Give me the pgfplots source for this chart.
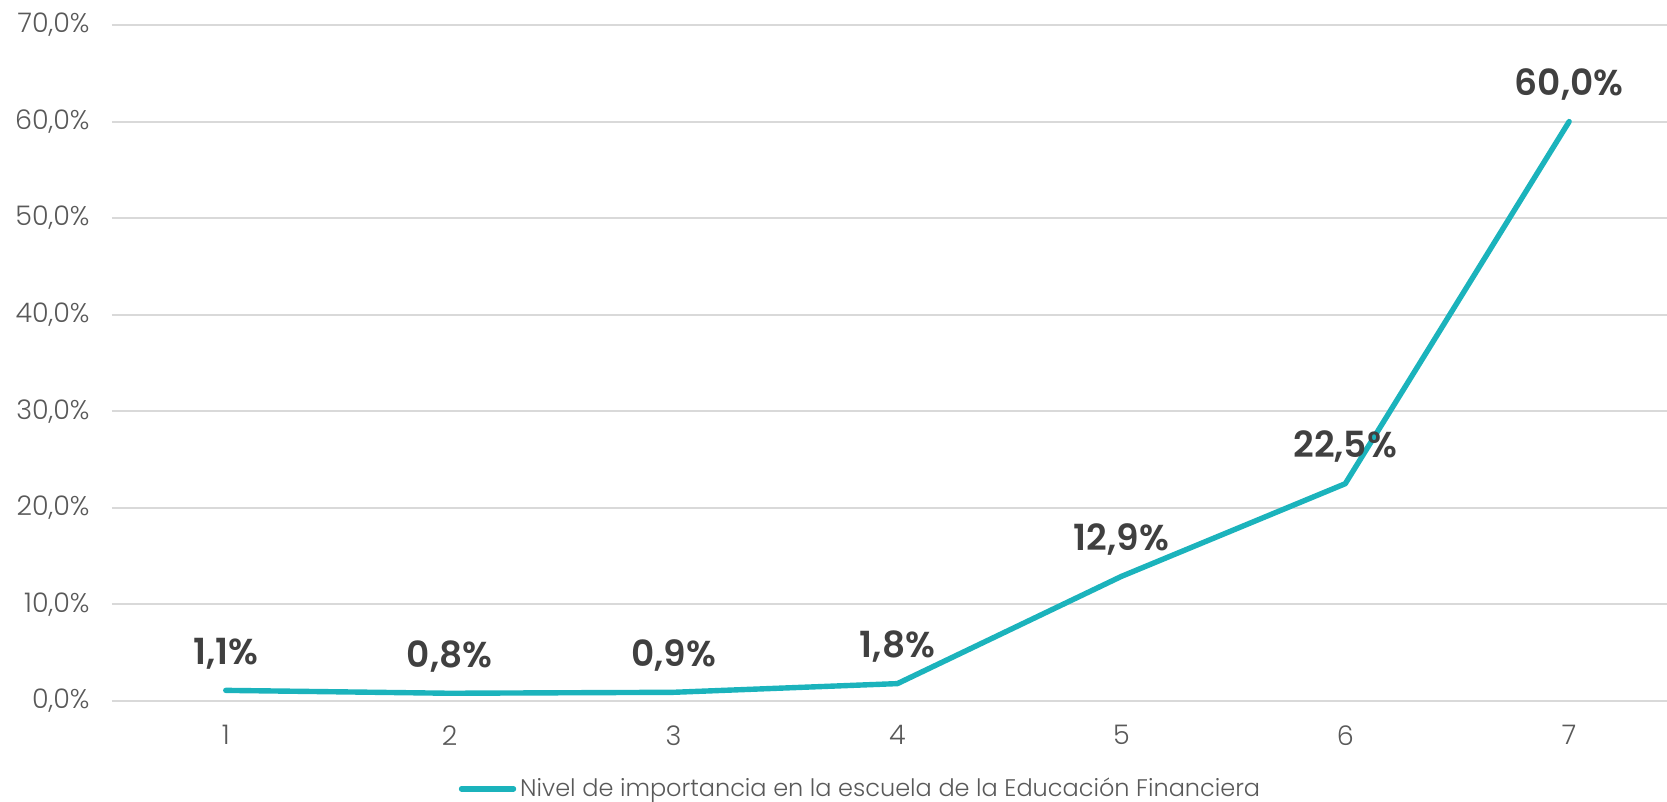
\documentclass[border=0pt]{standalone}
\usepackage{pgfplots}
\pgfplotsset{compat=1.18}
\usepackage{fontspec}
\setmainfont{Poppins}[UprightFont={* Light}, BoldFont={* SemiBold}]
\definecolor{teal}{HTML}{1BB3BC}
\definecolor{tickgray}{HTML}{595959}
\definecolor{labgray}{HTML}{404040}
\definecolor{gridgray}{HTML}{D9D9D9}
\begin{document}
\begin{tikzpicture}
\useasboundingbox (0,0) rectangle (833.5pt,401pt);
\begin{axis}[
  at={(56pt,50.5pt)}, anchor=south west,
  scale only axis, width=777.5pt, height=338pt,
  xmin=0.492, xmax=7.437, ymin=0, ymax=70,
  axis line style={draw=none},
  tick style={draw=none},
  ymajorgrids, grid style={gridgray, line width=1pt},
  xtick={1,...,7}, ytick={0,10,...,70},
  major tick length=0pt,
  /pgf/number format/assume math mode=true,
  tick label style={font=\fontsize{13.5}{16}\selectfont, text=tickgray},
  xticklabel style={inner sep=0pt, anchor=north, yshift=-12pt},
  yticklabel style={inner sep=0pt, anchor=east, xshift=-11pt},
  yticklabel={\pgfmathprintnumber[fixed,fixed zerofill,precision=1,use comma]{\tick}\%},
  legend style={at={(0.482,-0.130)}, anchor=center, draw=none, fill=none,
    font=\fontsize{12}{15}\selectfont, text=tickgray, inner sep=0pt,
    /tikz/every even column/.append style={column sep=0pt}},
  legend cell align=left,
  legend image code/.code={\draw[#1, line cap=round] (0pt,0pt) -- (26pt,0pt);},
  nodes near coords={\pgfmathprintnumber[fixed,fixed zerofill,precision=1,use comma]{\pgfplotspointmeta}\%},
  nodes near coords style={font=\bfseries\fontsize{18}{22}\selectfont, text=labgray, anchor=base, inner sep=0pt, yshift=13pt},
  clip=false,
]
\addplot[teal, line width=2.7pt, line cap=round, line join=round, mark=none] coordinates {
(1,1.1) (2,0.8) (3,0.9) (4,1.8) (5,12.9) (6,22.5) (7,60.0)
};
\addlegendentry{Nivel de importancia en la escuela de la Educación Financiera}
\end{axis}
\end{tikzpicture}
\end{document}
